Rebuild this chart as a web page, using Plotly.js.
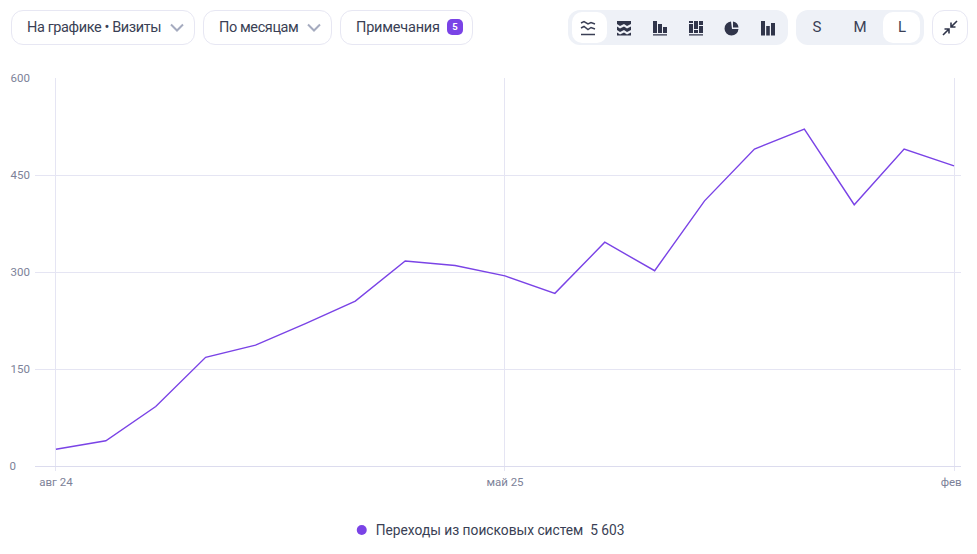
<!DOCTYPE html>
<html lang="ru"><head><meta charset="utf-8">
<script src="https://cdn.plot.ly/plotly-3.0.1.min.js"></script>
<style>
html,body{margin:0;padding:0;background:#fff;width:977px;height:554px;overflow:hidden}
body{font-family:Roboto,"Noto Sans",sans-serif;position:relative;color:#3a3f55}
#chart{position:absolute;left:0;top:0;width:977px;height:554px}
.pill{position:absolute;top:10px;height:33px;border:1px solid #e7e7f3;border-radius:12px;background:#fff;box-sizing:content-box;font-size:14.5px;line-height:33px;white-space:nowrap;letter-spacing:-.4px}
.pill span.t{position:absolute;top:0}
.group{position:absolute;top:10px;height:35px;background:#eef1f7;border-radius:12px}
.sel{position:absolute;top:12px;height:31px;background:#fff;border-radius:10px}
.lab{position:absolute;top:10px;line-height:35px;font-size:15px;width:30px;text-align:center;color:#3a3f55}
svg.ic{position:absolute;overflow:visible}
.badge{position:absolute;left:106px;top:8px;width:16px;height:16px;border-radius:5px;background:#7a43e6;color:#fff;font-size:9.5px;line-height:16px;text-align:center;font-weight:700;letter-spacing:0}
</style></head><body>
<div id="chart"></div>
<div class="pill" style="left:11px;width:182px"><span class="t" style="left:15px">На графике • Визиты</span>
<svg class="ic" style="left:158px;top:12px" width="14" height="10"><path d="M1 1.5 L7 7.5 L13 1.5" fill="none" stroke="#a5abbf" stroke-width="2"/></svg></div>
<div class="pill" style="left:203px;width:127px"><span class="t" style="left:15px">По месяцам</span>
<svg class="ic" style="left:103px;top:12px" width="14" height="10"><path d="M1 1.5 L7 7.5 L13 1.5" fill="none" stroke="#a5abbf" stroke-width="2"/></svg></div>
<div class="pill" style="left:340px;width:131px"><span class="t" style="left:15px;letter-spacing:-.2px">Примечания</span><span class="badge">5</span></div>
<div class="group" style="left:568px;width:220px"></div>
<div class="sel" style="left:572px;width:35px"></div>
<svg class="ic" style="left:581px;top:21px" width="14" height="15"><path d="M0 2 L3 .5 L7 3 L10 1.5 L14 3 M0 7 L3 5.5 L7 8.5 L10 6.5 L14 8 M0 13.5 H14" fill="none" stroke="#3a3f55" stroke-width="1.5"/></svg>
<svg class="ic" style="left:617px;top:21px" width="14" height="15"><path d="M0 0 H14 V3 L10 5 L7 3 L3 5 L0 3 Z M0 5.5 L3 7.5 L7 5.5 L10 7.5 L14 5.5 V9 L10 11 L7 9 L3 11 L0 9 Z M0 11.5 L3 13.5 L7 11.5 L10 13.5 L14 11.5 V14.5 H0 Z" fill="#30354a"/></svg>
<svg class="ic" style="left:653px;top:21px" width="14" height="15"><path d="M0 0 H4 V12 H0 Z M5 3 H9 V12 H5 Z M10 6 H14 V12 H10 Z M0 13.3 H14 V14.5 H0 Z" fill="#30354a"/></svg>
<svg class="ic" style="left:689px;top:21px" width="14" height="15"><path d="M0 0 H4 V2 H0 Z M0 3 H4 V12 H0 Z M5 0 H9 V8 H5 Z M5 9 H9 V12 H5 Z M10 0 H14 V4 H10 Z M10 5 H14 V12 H10 Z M0 13.3 H14 V14.5 H0 Z" fill="#30354a"/></svg>
<svg class="ic" style="left:725px;top:21px" width="14" height="14"><path d="M6 .5 A7 7 0 1 0 13.5 8 L7 8 L6 .5 Z M8 .5 A6.5 6.5 0 0 1 13.5 6.5 L8 6.5 Z" fill="#30354a"/></svg>
<svg class="ic" style="left:761px;top:21px" width="14" height="15"><path d="M0 0 H4 V14.5 H0 Z M5.2 5 H8.8 V14.5 H5.2 Z M10 2 H14 V14.5 H10 Z" fill="#30354a"/></svg>
<div class="group" style="left:796px;width:128px"></div>
<div class="sel" style="left:883px;width:37px"></div>
<div class="lab" style="left:802px">S</div><div class="lab" style="left:845px">M</div><div class="lab" style="left:887px">L</div>
<div class="pill" style="left:932px;width:34px"></div>
<svg class="ic" style="left:942px;top:20px" width="16" height="16"><path d="M9 7 L15 1 M9 2.5 V7 H13.5 M7 9 L1 15 M2.5 9 H7 V13.5" fill="none" stroke="#30354a" stroke-width="1.6"/></svg>
<script>
const months = ["авг 24","сен 24","окт 24","ноя 24","дек 24","янв 25","фев 25","мар 25","апр 25","май 25","июн 25","июл 25","авг 25","сен 25","окт 25","ноя 25","дек 25","янв 26","фев"];
const visits = [26,39,92,168,187,220,255,317,310,294,267,346,302,410,490,521,404,490,464];
const xTickValues = ["авг 24","май 25","фев"];
const xTickLabels = ["авг 24","май 25","фев\u00a0\u00a0"];
const yTickValues = [0,150,300,450,600];
const yTickLabels = ["0\u2007\u2007\u200a","150","300","450","600"];
const seriesName = "Переходы из поисковых систем\u00a0\u00a05\u00a0603";
const purple = "#7a43e6", grid = "#e5e5f3", tickColor = "#7d8299";
Plotly.newPlot("chart",[
 {type:"scatter",mode:"lines",x:months,y:visits,showlegend:false,hoverinfo:"x+y",line:{color:purple,width:1.4,shape:"linear"}},
 {type:"scatter",mode:"markers",x:[null],y:[null],name:seriesName,marker:{color:purple,size:10}}
],{
 width:977,height:554,paper_bgcolor:"#fff",plot_bgcolor:"#fff",
 margin:{l:35,r:16,t:78,b:88,pad:0,autoexpand:false},
 font:{family:"Roboto, 'Noto Sans', sans-serif",color:"#3a3f55"},
 xaxis:{type:"category",categoryorder:"array",categoryarray:months,range:[-0.42,18.14],
  tickmode:"array",tickvals:xTickValues,ticktext:xTickLabels,ticks:"outside",ticklen:4,tickcolor:grid,tickwidth:1,
  showgrid:true,gridcolor:grid,gridwidth:1,showline:false,zeroline:false,tickangle:0,tickfont:{size:11.5,color:tickColor},ticklabelstandoff:1},
 yaxis:{range:[0,600],tickmode:"array",tickvals:yTickValues,ticktext:yTickLabels,ticks:"",showgrid:true,gridcolor:grid,gridwidth:1,
  zeroline:true,zerolinecolor:"#dcdcee",zerolinewidth:1,showline:false,tickfont:{size:11.5,color:tickColor},ticklabelstandoff:4},
 legend:{orientation:"h",x:0.490,xanchor:"center",y:-0.165,yanchor:"middle",font:{size:13.75,color:"#3a3f55"},bgcolor:"rgba(0,0,0,0)"},
 showlegend:true,hovermode:"closest"
},{displayModeBar:false,responsive:false}).then(function(){
 var t=document.querySelector("#chart .legendtext");
 if(t){t.setAttribute("x",parseFloat(t.getAttribute("x"))-6);}
});
</script>
</body></html>
